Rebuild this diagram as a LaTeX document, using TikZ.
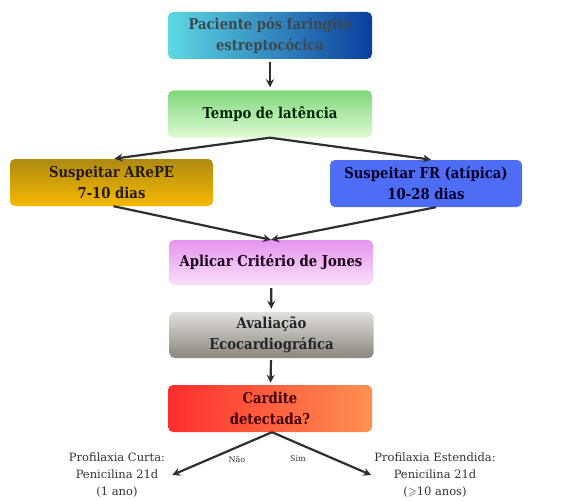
\documentclass[tikz,border=0pt]{standalone}
\usepackage{amssymb}
\usepackage{fontspec}
\setmainfont{DejaVu Serif}
\newfontfamily\boxfont[FakeStretch=0.88]{DejaVu Serif}
\usepackage{tikz}
\usetikzlibrary{arrows.meta}

\definecolor{cyanL}{HTML}{5DD8E2}
\definecolor{blueR}{HTML}{0B3E9E}
\definecolor{greenT}{HTML}{80D77C}
\definecolor{greenB}{HTML}{DDFBD3}
\definecolor{goldT}{HTML}{AE8A12}
\definecolor{goldB}{HTML}{F6B900}
\definecolor{frblue}{HTML}{4F6CF4}
\definecolor{violetT}{HTML}{E594EE}
\definecolor{violetB}{HTML}{F9E0FA}
\definecolor{grayT}{HTML}{E2E0DC}
\definecolor{grayB}{HTML}{8A857E}
\definecolor{redL}{HTML}{FF2E2E}
\definecolor{orangeR}{HTML}{FF9150}
\definecolor{arrowgray}{HTML}{2E2E2E}

\begin{document}

\begin{tikzpicture}[x=1pt,y=-1pt,
  box/.style={rounded corners=5pt,minimum width=204pt,minimum height=47pt,
    align=center,inner sep=2pt,font=\boxfont\fontsize{15}{21}\selectfont\bfseries},
  leaf/.style={align=center,inner sep=3pt,font=\fontsize{11.5}{17}\selectfont,text=black!80},
  link/.style={arrowgray,line width=2.2pt,-{Stealth[length=8pt,width=8pt]}}]

\useasboundingbox (0,0) rectangle (585,500);

% boxes
\node [box,left color=cyanL,right color=blueR,text=black!80!cyan] (pac) at (270,35.5)
  {Paciente pós faringite\\estreptocócica};
\node [box,top color=greenT,bottom color=greenB,text=black!85!green] (lat) at (270,114)
  {Tempo de latência};
\node [box,minimum width=203pt,top color=goldT,bottom color=goldB,text=black!80!brown] (arepe) at (111.5,182.5)
  {Suspeitar ARePE\\7-10 dias};
\node [box,minimum width=192pt,fill=frblue,text=black!85!blue] (fr) at (426,183.5)
  {Suspeitar FR (atípica)\\10-28 dias};
\node [box,minimum height=45pt,top color=violetT,bottom color=violetB,text=black!80!violet] (jones) at (271,262.5)
  {Aplicar Critério de Jones};
\node [box,minimum height=46pt,top color=grayT,bottom color=grayB,text=black!85] (eco) at (271.5,335)
  {Avaliação\\Ecocardiográfica};
\node [box,left color=redL,right color=orangeR,text=black!75!red] (card) at (270,408.5)
  {Cardite\\detectada?};

% leaves
\node [leaf] (curta) at (117,475) {Profilaxia Curta:\\Penicilina 21d\\(1 ano)};
\node [leaf] (estend) at (435,475) {Profilaxia Estendida:\\Penicilina 21d\\($\geqslant$10 anos)};

% arrows
\draw [link,shorten <=3pt,shorten >=3pt] (pac) -- (lat);
\draw [link,shorten >=1pt] (lat.south) -- ([xshift=2pt]arepe.north);
\draw [link,shorten >=1pt] (lat.south) -- ([xshift=6pt]fr.north);
\draw [link] ([xshift=2pt]arepe.south) -- (jones.north);
\draw [link] ([xshift=10pt]fr.south) -- (jones.north);
\draw [link,shorten <=3pt,shorten >=3pt] (jones) -- (eco);
\draw [link,shorten <=2pt,shorten >=2pt] (eco) -- (card);
\draw [link] ([xshift=2pt]card.south) -- ([xshift=4pt]curta.east);
\draw [link] ([xshift=2pt]card.south) -- (estend.west);

\node [font=\fontsize{8}{9}\selectfont,text=black!80] (nao) at (237,459) {Não};
\node [font=\fontsize{8}{9}\selectfont,text=black!80] (sim) at (298,459) {Sim};

\end{tikzpicture}

\end{document}
